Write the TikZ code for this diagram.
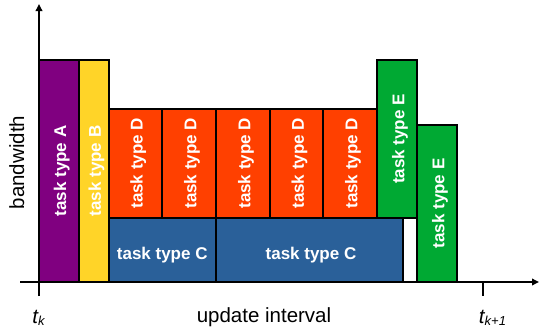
\documentclass[tikz,border=0pt]{standalone}
\usepackage{fontspec}
\setmainfont{Liberation Sans}
\usetikzlibrary{arrows.meta}

\definecolor{typeA}{HTML}{800080}
\definecolor{typeB}{HTML}{FFD428}
\definecolor{typeC}{HTML}{2A6099}
\definecolor{typeD}{HTML}{FF4000}
\definecolor{typeE}{HTML}{00A933}

\begin{document}
\begin{tikzpicture}[x=1pt, y=-1pt]
	\tikzset{bar/.style={draw=black, line width=2pt},
		lbl/.style={text=white, inner sep=0pt, font=\bfseries\fontsize{17}{19}\selectfont},
		vlbl/.style={lbl, rotate=90, yshift=-3pt},
		hlbl/.style={lbl, yshift=-5pt},
		ax/.style={line width=2pt, -{Triangle[length=7pt, width=6.5pt]}},
		axlbl/.style={inner sep=0pt, font=\fontsize{20.5}{24}\selectfont}};
	\useasboundingbox (0,0) rectangle (539,335);

	% bars
	\draw[bar, fill=typeA] (39,60) rectangle (78.5,282);
	\draw[bar, fill=typeB] (78.5,60) rectangle (108.5,282);
	\draw[bar, fill=typeD] (108.5,108.5) rectangle (162,218);
	\draw[bar, fill=typeD] (162,108.5) rectangle (216,218);
	\draw[bar, fill=typeD] (216,108.5) rectangle (270,218);
	\draw[bar, fill=typeD] (270,108.5) rectangle (323,218);
	\draw[bar, fill=typeD] (323,108.5) rectangle (377,218);
	\draw[bar, fill=typeC] (108.5,218) rectangle (216,282);
	\draw[bar, fill=typeC] (216,218) rectangle (403,282);
	\draw[bar, fill=typeE] (377,60) rectangle (417,218);
	\draw[bar, fill=typeE] (417,125) rectangle (457,282);

	\node[vlbl] (a) at (58.75,171) {task type A};
	\node[vlbl] (b) at (93.5,171) {task type B};
	\node[vlbl] (d1) at (135.25,163.25) {task type D};
	\node[vlbl] (d2) at (189,163.25) {task type D};
	\node[vlbl] (d3) at (243,163.25) {task type D};
	\node[vlbl] (d4) at (296.5,163.25) {task type D};
	\node[vlbl] (d5) at (350,163.25) {task type D};
	\node[hlbl] (c1) at (162.25,250) {task type C};
	\node[hlbl] (c2) at (311,250) {task type C};
	\node[vlbl] (e1) at (397,139) {task type E};
	\node[vlbl] (e2) at (437,203.5) {task type E};

	% axes
	\coordinate (o) at (39,282);
	\coordinate (ytop) at (39,4);
	\coordinate (ybot) at (39,296);
	\coordinate (xleft) at (20,282);
	\coordinate (xright) at (539,282);
	\coordinate (tick) at (483,282);
	\coordinate (tickbot) at (483,296);
	\draw[ax] (ybot) -- (ytop);
	\draw[ax] (xleft) -- (xright);
	\draw[line width=1.2pt] (tick) -- (tickbot);

	\node[axlbl, rotate=90, anchor=base] (bw) at (24,162.5) {bandwidth};
	\node[axlbl, anchor=base] (ui) at (264,322.5) {update interval};
	\node[axlbl, anchor=base] (tk) at (38.5,323) {\itshape t\raisebox{-2.5pt}{\fontsize{13}{14}\selectfont k}};
	\node[axlbl, anchor=base] (tk1) at (492.5,323) {\itshape t\raisebox{-2.5pt}{\fontsize{13}{14}\selectfont k+1}};
\end{tikzpicture}
\end{document}
